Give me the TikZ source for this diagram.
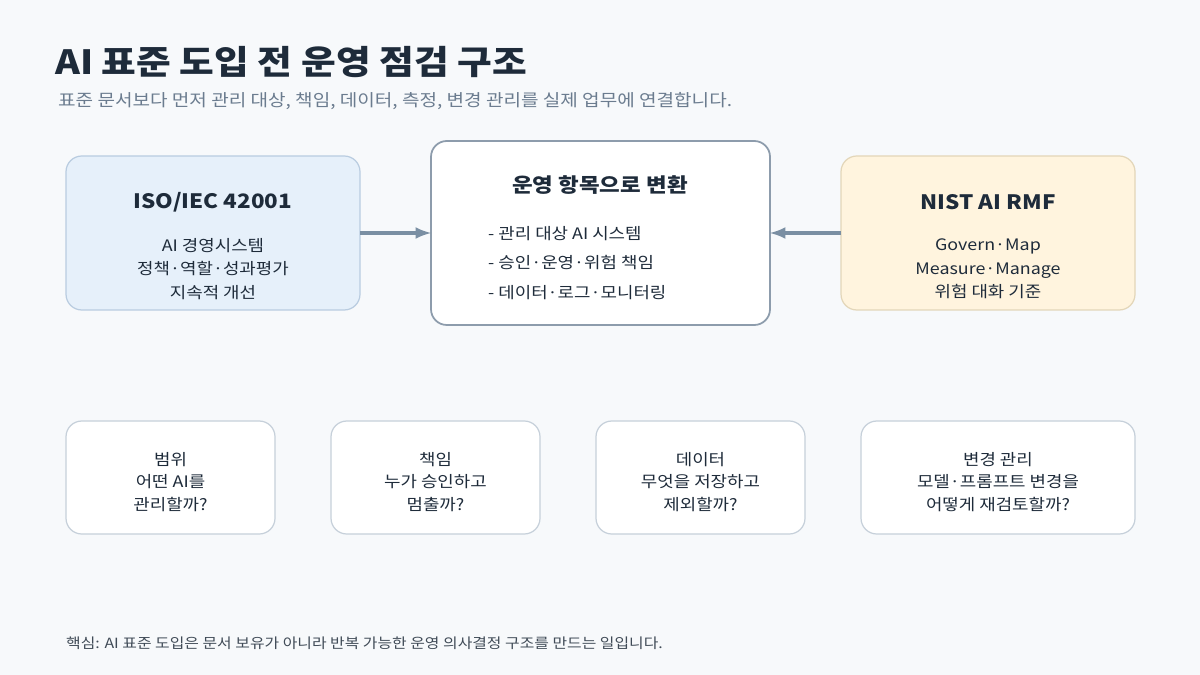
\documentclass[tikz,border=0pt]{standalone}
\usepackage{fontspec}
\setmainfont[FakeStretch=1.13]{Noto Sans CJK KR}
\usetikzlibrary{positioning}
\definecolor{bgc}{HTML}{F7F9FB}
\definecolor{ink}{HTML}{1E2B3A}
\definecolor{sub}{HTML}{6B7C8F}
\definecolor{isofill}{HTML}{E6F0FA}
\definecolor{isoline}{HTML}{B9CCE0}
\definecolor{nistfill}{HTML}{FFF4DE}
\definecolor{nistline}{HTML}{E3D6B9}
\definecolor{midline}{HTML}{8D9CAC}
\definecolor{boxline}{HTML}{C6D0DA}
\definecolor{arr}{HTML}{7A8FA3}
\begin{document}
\begin{tikzpicture}[x=0.02cm,y=-0.02cm,
    card/.style={draw, rounded corners=9pt, line width=0.7pt, inner sep=0pt},
    body/.style={font=\fontsize{9}{13.3}\selectfont, text=ink, align=center},
    head/.style={font=\fontsize{11.3}{14}\selectfont\bfseries, text=ink},
    link/.style={draw=arr, line width=2pt, -latex}]
    \useasboundingbox[fill=bgc] (0,0) rectangle (1200,675);
    % title
    \node[anchor=west, font=\fontsize{19}{21}\selectfont\bfseries, text=ink] (title) at (49,62) {AI 표준 도입 전 운영 점검 구조};
    \node[anchor=west, font=\fontsize{9.6}{12}\selectfont, text=sub] (subtitle) at (52,101) {표준 문서보다 먼저 관리 대상, 책임, 데이터, 측정, 변경 관리를 실제 업무에 연결합니다.};
    % top row
    \draw[card, fill=isofill, draw=isoline] (66,156) rectangle (360,310);
    \node[head] (iso) at (213,202) {ISO/IEC 42001};
    \node[body] (isotext) at (213,269) {AI 경영시스템\\정책·역할·성과평가\\지속적 개선};
    \draw[card, fill=white, draw=midline, line width=1pt] (431,141) rectangle (770,325);
    \node[head] (mid) at (600,185) {운영 항목으로 변환};
    \node[body, align=left, anchor=west, font=\fontsize{9}{16.8}\selectfont] (midtext) at (482,263) {- 관리 대상 AI 시스템\\- 승인·운영·위험 책임\\- 데이터·로그·모니터링};
    \draw[card, fill=nistfill, draw=nistline] (841,156) rectangle (1135,310);
    \node[head] (nist) at (988,202) {NIST AI RMF};
    \node[body] (nisttext) at (988,269) {Govern·Map\\Measure·Manage\\위험 대화 기준};
    \coordinate (isoE) at (360,233); \coordinate (midW) at (431,233);
    \coordinate (nistW) at (841,233); \coordinate (midE) at (770,233);
    \draw[link] (isoE) -- (midW);
    \draw[link] (nistW) -- (midE);
    % bottom row
    \foreach \l/\r/\t [count=\i] in {66/275/{범위\\어떤 AI를\\관리할까?},
        331/540/{책임\\누가 승인하고\\멈출까?},
        596/805/{데이터\\무엇을 저장하고\\제외할까?},
        861/1135/{변경 관리\\모델·프롬프트 변경을\\어떻게 재검토할까?}} {
      \draw[card, fill=white, draw=boxline] (\l,421) rectangle (\r,534);
      \node[body, font=\fontsize{9}{12.8}\selectfont] (q\i) at ({(\l+\r)/2},482) {\t};
    }
    % footer
    \node[anchor=west, font=\fontsize{8}{10}\selectfont, text=ink!85] (note) at (60,643) {핵심: AI 표준 도입은 문서 보유가 아니라 반복 가능한 운영 의사결정 구조를 만드는 일입니다.};
\end{tikzpicture}
\end{document}
